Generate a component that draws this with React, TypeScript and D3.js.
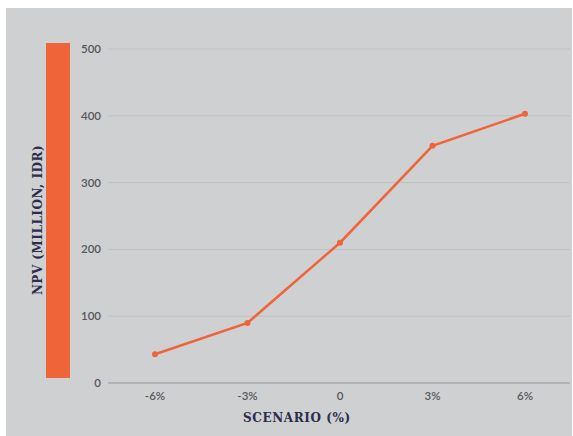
import React from "react";
import * as d3 from "d3";

const scenarios = ["-6%", "-3%", "0", "3%", "6%"];
const npvValues = [43, 90, 210, 355, 403];
const yTicks = [0, 100, 200, 300, 400, 500];

const W = 573;
const H = 436;
const ORANGE = "#f0643a";
const NAVY = "#2b2d4a";
const LABEL_FONT = "Lato, 'Open Sans', sans-serif";

export default function App() {
  const x = d3.scalePoint<string>().domain(scenarios).range([155, 525]);
  const y = d3.scaleLinear().domain([0, 500]).range([383, 49]);
  const pts = scenarios.map((s, i) => ({ s, v: npvValues[i] }));
  const line = d3
    .line<{ s: string; v: number }>()
    .x((d) => x(d.s) as number)
    .y((d) => y(d.v));

  return (
    <svg
      width={W}
      height={H}
      style={{ position: "absolute", left: 0, top: 0, display: "block" }}
    >
      <rect x={0} y={0} width={W} height={H} fill="#ffffff" />
      <rect x={6} y={8} width={W - 7} height={H - 8} fill="#cfd0d2" />

      {/* orange accent bar behind the axis title */}
      <rect x={46} y={43} width={24} height={335} fill={ORANGE} />

      {/* horizontal gridlines and value labels */}
      {yTicks.map((t) => (
        <g key={t}>
          <line
            x1={108}
            x2={570}
            y1={y(t)}
            y2={y(t)}
            stroke={t === 0 ? "#a9aaac" : "#bfc0c2"}
            strokeWidth={t === 0 ? 1.5 : 1}
          />
          <text
            x={101}
            y={y(t)}
            dy="0.35em"
            textAnchor="end"
            fontFamily={LABEL_FONT}
            fontSize={11.5}
            fontWeight={600}
            fill="#57585c"
          >
            {t}
          </text>
        </g>
      ))}

      {/* category labels */}
      {scenarios.map((s) => (
        <text
          key={s}
          x={x(s) as number}
          y={396}
          dy="0.35em"
          textAnchor="middle"
          fontFamily={LABEL_FONT}
          fontSize={11.5}
          fontWeight={600}
          fill="#57585c"
        >
          {s}
        </text>
      ))}

      {/* NPV line with markers */}
      <path d={line(pts) || ""} fill="none" stroke={ORANGE} strokeWidth={2.5} />
      {pts.map((d) => (
        <circle key={d.s} cx={x(d.s) as number} cy={y(d.v)} r={3} fill={ORANGE} />
      ))}

      {/* axis titles */}
      <text
        x={297}
        y={418}
        dy="0.35em"
        textAnchor="middle"
        fontFamily="'DejaVu Serif', serif"
        fontWeight="bold"
        fontSize={12}
        letterSpacing={0.6}
        fill={NAVY}
      >
        SCENARIO (%)
      </text>
      <text
        transform={`translate(38,220) rotate(-90)`}
        dy="0.35em"
        textAnchor="middle"
        fontFamily="'DejaVu Serif', serif"
        fontWeight="bold"
        fontSize={12}
        letterSpacing={0.5}
        fill={NAVY}
      >
        NPV (MILLION, IDR)
      </text>
    </svg>
  );
}
